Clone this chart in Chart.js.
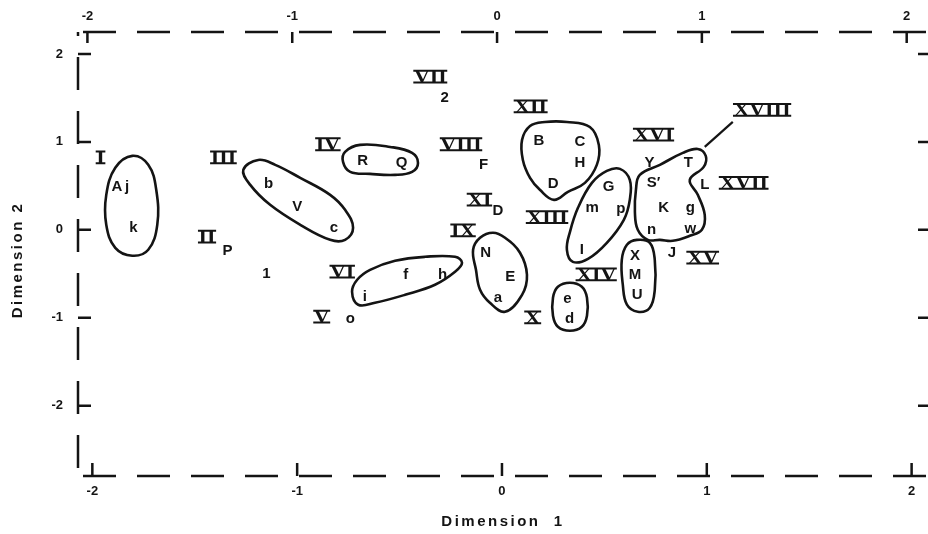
<!DOCTYPE html>
<html>
<head>
<meta charset="utf-8">
<script src="https://cdn.jsdelivr.net/npm/chart.js@4.4.0/dist/chart.umd.min.js"></script>
<style>
  html, body { margin: 0; padding: 0; background: #fff; }
  #wrap { width: 928px; height: 534px; }
</style>
</head>
<body>
<div id="wrap"><canvas id="mds"></canvas></div>
<script>
const tickValues = [-2, -1, 0, 1, 2];

// stimuli (letters), dimension 1 / dimension 2
const itemLabels = ['A', 'j', 'k', 'P', '1', 'b', 'V', 'c', 'R', 'Q', '2', 'F', 'B', 'C', 'H', 'D', 'Y', 'T', 'S′', 'L',
  'G', 'm', 'p', 'K', 'g', 'n', 'w', 'J', 'D', 'N', 'E', 'a', 'I', 'X', 'M', 'U', 'e', 'd', 'f', 'h', 'i', 'o'];
const itemX = [-1.88, -1.83, -1.80, -1.34, -1.15, -1.14, -1.00, -0.82, -0.68, -0.49, -0.28, -0.09, 0.18, 0.38, 0.38, 0.25, 0.72, 0.91, 0.74, 0.99,
  0.52, 0.44, 0.58, 0.79, 0.92, 0.73, 0.92, 0.83, -0.02, -0.08, 0.04, -0.02, 0.39, 0.65, 0.65, 0.66, 0.32, 0.33, -0.47, -0.29, -0.67, -0.74];
const itemY = [0.49, 0.49, 0.02, -0.24, -0.50, 0.52, 0.26, 0.02, 0.78, 0.76, 1.50, 0.74, 1.01, 1.00, 0.76, 0.52, 0.76, 0.76, 0.53, 0.51,
  0.49, 0.25, 0.24, 0.25, 0.25, 0.00, 0.01, -0.26, 0.22, -0.26, -0.53, -0.77, -0.23, -0.30, -0.51, -0.74, -0.78, -1.01, -0.51, -0.51, -0.76, -1.01];

// group numerals
const groupLabels = ['I', 'II', 'III', 'IV', 'V', 'VI', 'VII', 'VIII', 'IX', 'X', 'XI', 'XII', 'XIII', 'XIV', 'XV', 'XVI', 'XVII', 'XVIII'];
const groupX = [-1.96, -1.44, -1.36, -0.85, -0.88, -0.78, -0.35, -0.20, -0.19, 0.15, -0.11, 0.14, 0.22, 0.46, 0.98, 0.74, 1.18, 1.27];
const groupY = [0.82, -0.08, 0.82, 0.97, -0.99, -0.48, 1.74, 0.97, -0.01, -1.00, 0.34, 1.40, 0.14, -0.51, -0.32, 1.08, 0.53, 1.36];

// hand drawn cluster outlines
const loopAjk = [[-1.805, 0.841], [-1.727, 0.739], [-1.688, 0.455], [-1.683, 0.057], [-1.727, -0.227], [-1.805, -0.295],
  [-1.888, -0.205], [-1.932, 0.057], [-1.932, 0.398], [-1.888, 0.705]];
const loopBVc = [[-1.190, 0.795], [-1.107, 0.739], [-0.985, 0.591], [-0.839, 0.398], [-0.766, 0.227], [-0.727, 0.023],
  [-0.766, -0.114], [-0.839, -0.114], [-0.985, 0.057], [-1.132, 0.284], [-1.229, 0.511], [-1.263, 0.682]];
const loopRQ = [[-0.766, 0.886], [-0.693, 0.966], [-0.546, 0.943], [-0.439, 0.875], [-0.410, 0.761], [-0.439, 0.659],
  [-0.522, 0.625], [-0.644, 0.636], [-0.741, 0.659], [-0.776, 0.773]];
const loopBCHD = [[0.098, 1.023], [0.137, 1.182], [0.210, 1.227], [0.317, 1.227], [0.429, 1.170], [0.473, 0.966], [0.463, 0.739],
  [0.405, 0.534], [0.322, 0.432], [0.254, 0.341], [0.185, 0.455], [0.137, 0.591], [0.102, 0.795]];
const loopGmpI = [[0.512, 0.670], [0.576, 0.693], [0.624, 0.568], [0.624, 0.341], [0.595, 0.114], [0.512, -0.148],
  [0.420, -0.330], [0.346, -0.364], [0.317, -0.227], [0.332, -0.023], [0.371, 0.250], [0.439, 0.534]];
const loopTKg = [[0.673, 0.625], [0.771, 0.739], [0.883, 0.875], [0.956, 0.920], [0.995, 0.841], [0.985, 0.716], [0.917, 0.568],
  [0.956, 0.398], [0.990, 0.170], [0.976, 0.000], [0.917, -0.068], [0.834, -0.125], [0.771, -0.114], [0.712, -0.114],
  [0.663, 0.000], [0.649, 0.205], [0.654, 0.455]];
const loopXMU = [[0.659, -0.114], [0.722, -0.148], [0.746, -0.341], [0.746, -0.682], [0.722, -0.886], [0.663, -0.932],
  [0.610, -0.852], [0.590, -0.625], [0.585, -0.341], [0.610, -0.170]];
const loopNEa = [[-0.044, -0.034], [0.015, -0.091], [0.088, -0.261], [0.122, -0.511], [0.098, -0.739], [0.015, -0.932],
  [-0.059, -0.830], [-0.107, -0.682], [-0.127, -0.455], [-0.141, -0.227], [-0.107, -0.091]];
const loopEd = [[0.332, -0.602], [0.390, -0.648], [0.415, -0.773], [0.415, -0.977], [0.390, -1.102], [0.332, -1.148],
  [0.273, -1.102], [0.249, -0.977], [0.249, -0.773], [0.273, -0.648]];
const loopFhi = [[-0.732, -0.705], [-0.707, -0.568], [-0.644, -0.455], [-0.522, -0.352], [-0.376, -0.307], [-0.229, -0.307],
  [-0.195, -0.375], [-0.229, -0.477], [-0.327, -0.625], [-0.473, -0.739], [-0.620, -0.830], [-0.702, -0.852]];
const leaderXVIII = [[1.127, 1.227], [0.990, 0.943]];

const ink = '#141414';

// wrap the ring so the spline closes smoothly, then hide the two helper segments
function loopDataset(pts) {
  const n = pts.length;
  const data = [pts[n - 1], ...pts, pts[0], pts[1]].map(([x, y]) => ({x, y}));
  const last = data.length - 2;
  return {
    data,
    showLine: true,
    pointRadius: 0,
    borderColor: ink,
    borderWidth: 2.6,
    tension: 0.4,
    segment: {
      borderColor: c => (c.p0DataIndex === 0 || c.p0DataIndex === last) ? 'rgba(0,0,0,0)' : ink
    }
  };
}

const datasets = [loopAjk, loopBVc, loopRQ, loopBCHD, loopGmpI, loopTKg, loopXMU, loopNEa, loopEd, loopFhi].map(loopDataset);
datasets.push({
  data: leaderXVIII.map(([x, y]) => ({x, y})),
  showLine: true, pointRadius: 0, borderColor: ink, borderWidth: 2.2, tension: 0
});

// dashed frame (top, left, bottom), right edge is off the page
const frame = {
  id: 'frame',
  beforeDatasetsDraw(chart) {
    const {ctx, chartArea: a} = chart;
    ctx.save();
    ctx.strokeStyle = ink;
    ctx.lineWidth = 2.5;
    ctx.setLineDash([33, 21]);
    ctx.beginPath();
    ctx.lineDashOffset = -5;
    ctx.moveTo(a.left, a.top); ctx.lineTo(a.right, a.top);
    ctx.stroke();
    ctx.beginPath();
    ctx.lineDashOffset = -25;
    ctx.moveTo(a.left, a.top); ctx.lineTo(a.left, a.bottom);
    ctx.stroke();
    ctx.beginPath();
    ctx.lineDashOffset = -5;
    ctx.moveTo(a.left, a.bottom); ctx.lineTo(a.right, a.bottom);
    ctx.stroke();
    ctx.restore();
  }
};

const labels = {
  id: 'labels',
  afterDatasetsDraw(chart) {
    const {ctx, scales: {x, y}} = chart;
    ctx.save();
    ctx.fillStyle = ink;
    ctx.strokeStyle = ink;
    ctx.textAlign = 'center';
    ctx.textBaseline = 'middle';
    ctx.font = 'bold 15px "Liberation Sans"';
    itemLabels.forEach((t, i) => {
      ctx.fillText(t, x.getPixelForValue(itemX[i]), y.getPixelForValue(itemY[i]));
    });
    ctx.font = 'bold 19px "Liberation Serif"';
    ctx.textBaseline = 'alphabetic';
    groupLabels.forEach((t, i) => {
      ctx.save();
      ctx.translate(x.getPixelForValue(groupX[i]), y.getPixelForValue(groupY[i]));
      ctx.scale(1.15, 1);
      ctx.fillText(t, 0, 6);
      const w = ctx.measureText(t).width / 2 + 0.5;
      ctx.lineWidth = 2;
      ctx.beginPath();
      ctx.moveTo(-w, -6.2); ctx.lineTo(w, -6.2);
      ctx.moveTo(-w, 5.6); ctx.lineTo(w, 5.6);
      ctx.stroke();
      ctx.restore();
    });

    // axis titles, spaced out like the original lettering
    ctx.letterSpacing = '2.5px';
    ctx.font = 'bold 15px "Liberation Sans"';
    ctx.textBaseline = 'middle';
    ctx.fillText('Dimension  1', (x.left + x.right) / 2, x.bottom - 12);
    ctx.translate(y.left + 18, (y.top + y.bottom) / 2 + 6);
    ctx.rotate(-Math.PI / 2);
    ctx.fillText('Dimension 2', 0, 0);
    ctx.restore();
  }
};

// tick marks point into the plot
const innerTicks = {
  id: 'innerTicks',
  afterDraw(chart) {
    const {ctx, chartArea: a, scales: {x, x2, y}} = chart;
    ctx.save();
    ctx.strokeStyle = ink;
    ctx.lineWidth = 2.5;
    ctx.beginPath();
    tickValues.forEach(v => {
      const bx = x.getPixelForValue(v);
      ctx.moveTo(bx, a.bottom); ctx.lineTo(bx, a.bottom - 13);
      const tx = x2.getPixelForValue(v);
      ctx.moveTo(tx, a.top); ctx.lineTo(tx, a.top + 11);
      const py = y.getPixelForValue(v);
      ctx.moveTo(a.left, py); ctx.lineTo(a.left + 13, py);
      ctx.moveTo(a.right, py); ctx.lineTo(a.right - 10, py);
    });
    ctx.stroke();
    ctx.restore();
  }
};

const tickFont = {family: 'Liberation Sans', size: 13, weight: 'bold'};
const noGrid = {display: false, drawTicks: false};
const noBorder = {display: false};
const setTicks = s => { s.ticks = tickValues.map(v => ({value: v})); };

new Chart(document.getElementById('mds'), {
  type: 'scatter',
  data: {datasets},
  plugins: [frame, labels, innerTicks],
  options: {
    responsive: true,
    maintainAspectRatio: false,
    animation: false,
    events: [],
    layout: {padding: 0},
    plugins: {legend: {display: false}, tooltip: {enabled: false}},
    scales: {
      x: {
        type: 'linear', position: 'bottom', min: -2.07, max: 2.08,
        afterBuildTicks: setTicks,
        afterFit: s => { s.height = 58; },
        grid: noGrid, border: noBorder,
        ticks: {font: tickFont, color: ink, padding: 8}
      },
      x2: {
        type: 'linear', position: 'top', min: -2.046, max: 2.104,
        afterBuildTicks: setTicks,
        afterFit: s => { s.height = 32; },
        grid: noGrid, border: noBorder,
        ticks: {font: tickFont, color: ink, padding: 8}
      },
      y: {
        type: 'linear', position: 'left', min: -2.8, max: 2.25,
        afterBuildTicks: setTicks,
        afterFit: s => { s.width = 78; },
        grid: noGrid, border: noBorder,
        ticks: {font: tickFont, color: ink, padding: 15}
      }
    }
  }
});
</script>
</body>
</html>
